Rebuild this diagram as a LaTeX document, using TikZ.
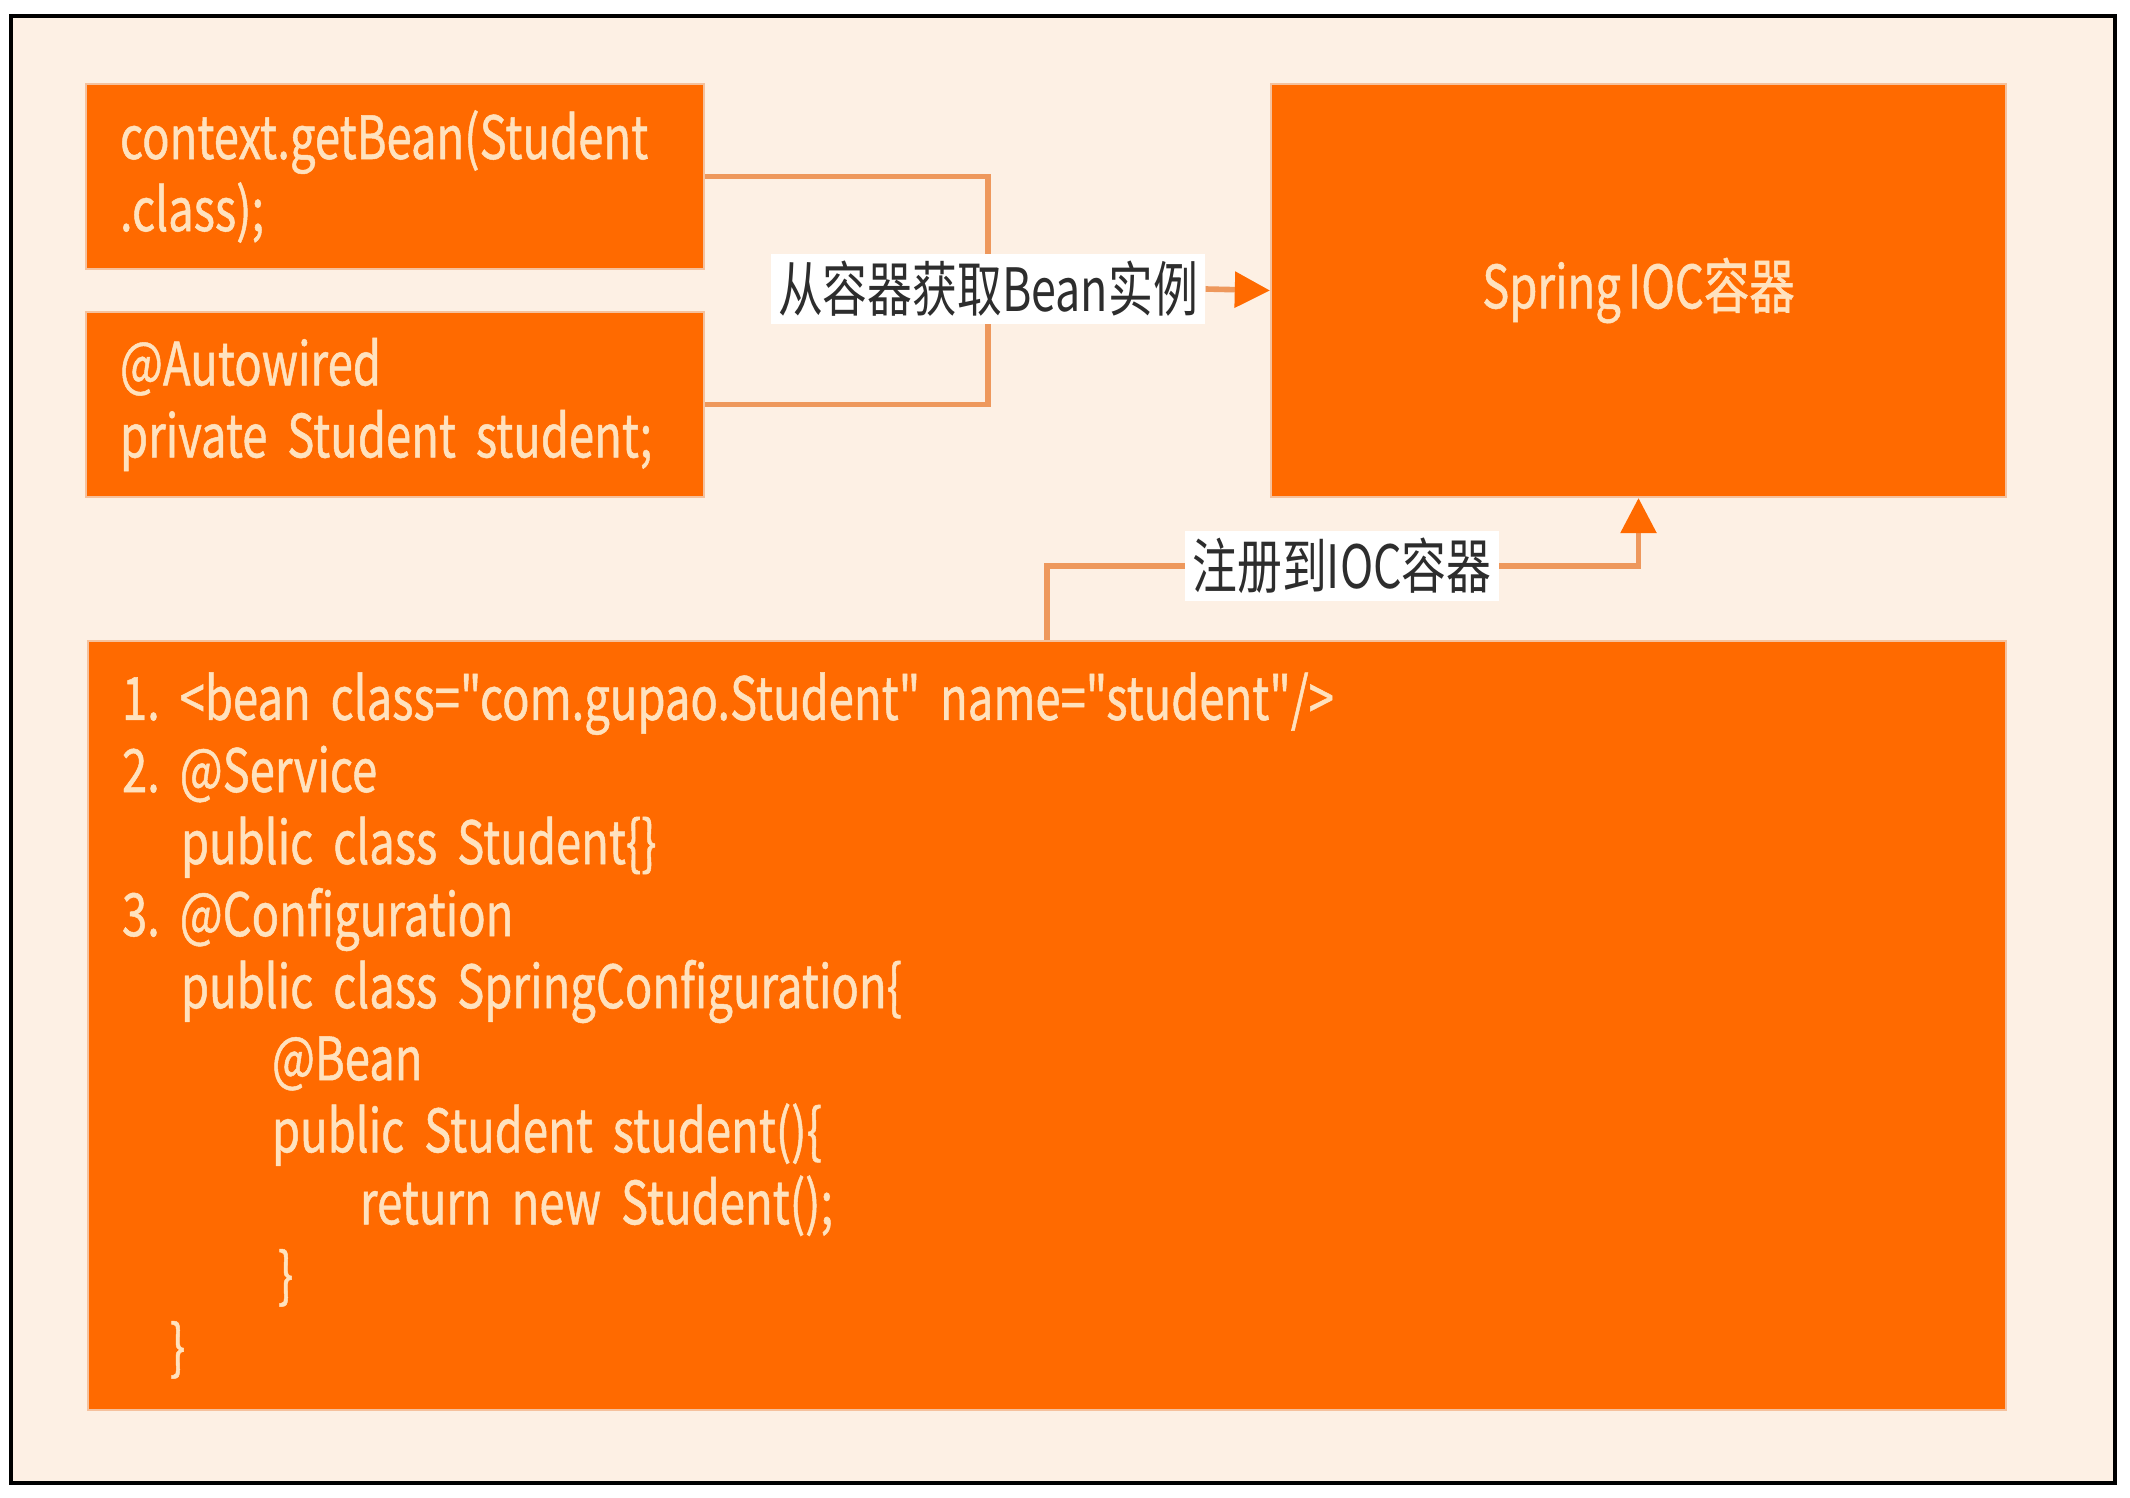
\documentclass[tikz,border=0pt]{standalone}
\usepackage{fontspec}
\setmainfont{Noto Sans CJK SC}[FakeStretch=0.75, WordSpace=0.8, Ligatures=TeXOff]
\newfontfamily\boxfont{Noto Sans CJK SC}[FakeStretch=0.76, FakeBold=0.8, WordSpace=0.7, Ligatures=TeXOff]
\usetikzlibrary{arrows.meta,positioning}
\definecolor{PageCream}{RGB}{253,240,228}
\definecolor{BoxOrange}{RGB}{255,106,0}
\definecolor{BoxText}{RGB}{255,226,190}
\definecolor{LinkOrange}{RGB}{238,152,92}
\definecolor{LabelGray}{RGB}{45,45,45}
\frenchspacing

\begin{document}
\begin{tikzpicture}[>={Triangle[length=10pt,width=10pt,color=BoxOrange]},
  box/.style={fill=BoxOrange, draw=LinkOrange!60, line width=0.6pt, text=BoxText,
              inner xsep=0.34cm, inner ysep=0pt, font=\boxfont\fontsize{17}{20.5}\selectfont},
  code/.style={box, align=left, text width=#1},
  conn/.style={draw=LinkOrange, line width=1.6pt},
  sig/.style={conn, ->},
  lab/.style={fill=white, text=LabelGray, inner sep=2pt, font=\fontsize{17}{20}\selectfont}]

  \useasboundingbox (0,0) rectangle (21.3,-14.98);
  \draw[line width=1.2pt, fill=PageCream] (0.11,-0.16) rectangle (21.15,-14.83);

  % --- the two ways to get a bean ---
  \node[code=5.5cm, minimum height=1.85cm] (get) at (3.95,-1.765)
    {context.getBean(Student\\.class);};
  \node[code=5.5cm, minimum height=1.85cm] (auto) at (3.95,-4.045)
    {@Autowired\\private Student student;};

  % --- the container ---
  \node[box, align=center, minimum width=7.35cm, minimum height=4.13cm] (ioc) at (16.385,-2.905)
    {Spring IOC容器};

  % --- bean definitions ---
  \node[code=18.5cm, minimum height=7.69cm] (conf) at (10.47,-10.255)
    {1. <bean class="com.gupao.Student" name="student"/>\\
     2. @Service\\
     \hspace*{0.59cm}public class Student\{\}\\
     3. @Configuration\\
     \hspace*{0.59cm}public class SpringConfiguration\{\\
     \hspace*{1.5cm}@Bean\\
     \hspace*{1.5cm}public Student student()\{\\
     \hspace*{2.38cm}return new Student();\\
     \hspace*{1.56cm}\}\\
     \hspace*{0.48cm}\}};

  % --- get from container ---
  \coordinate (fork) at (9.88,-2.89);
  \draw[conn] (get.east) -| (fork) |- (auto.east);
  \node[lab] (getlab) at (fork) {从容器获取Bean实例};
  \draw[sig] (getlab.east) -- (ioc.west);

  % --- register into container ---
  \coordinate (reg) at (13.42,-5.66);
  \draw[sig] (conf.north) |- (reg) -| (ioc.south);
  \node[lab] (reglab) at (reg) {注册到IOC容器};
\end{tikzpicture}
\end{document}
